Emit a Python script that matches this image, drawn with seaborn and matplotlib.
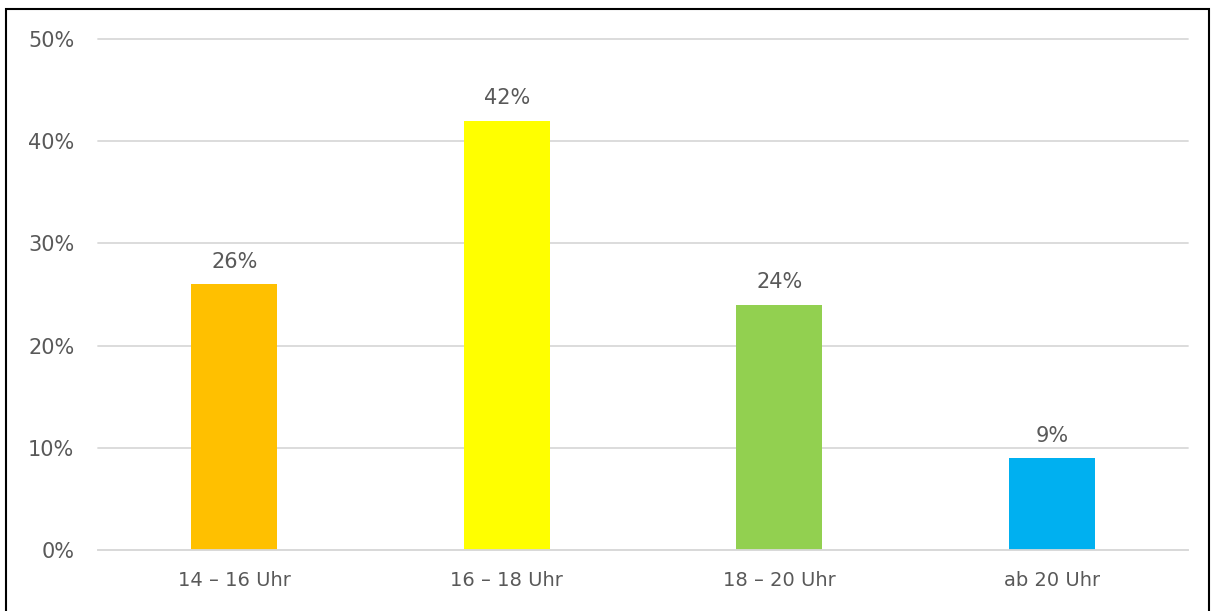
import matplotlib
matplotlib.use("Agg")
import matplotlib.pyplot as plt
import seaborn as sns
import pandas as pd
from matplotlib.patches import Rectangle

categories = ["14 – 16 Uhr", "16 – 18 Uhr", "18 – 20 Uhr", "ab 20 Uhr"]
values = [26, 42, 24, 9]
colors = ["#FFC000", "#FFFF00", "#92D050", "#00B0F0"]
yticks = [0, 10, 20, 30, 40, 50]

sns.set_theme(style="white")
plt.rcParams["font.family"] = ["DejaVu Sans"]
text_color = "#595959"

df = pd.DataFrame({"cat": categories, "val": values})

fig = plt.figure(figsize=(12.13, 6.11), dpi=100)
ax = fig.add_axes([98/1213, 61/611, 1090/1213, 511/611])

sns.barplot(data=df, x="cat", y="val", hue="cat", palette=colors, legend=False,
            width=0.316, ax=ax, saturation=1, linewidth=0, edgecolor="none")

ax.set_xlim(-0.5, 3.5)
ax.set_ylim(0, 50)
ax.set_yticks(yticks)
ax.set_yticklabels([f"{t}%" for t in yticks])
ax.yaxis.grid(True, color="#D9D9D9", linewidth=1.3)
for gl in ax.get_ygridlines():
    gl.set_clip_on(False)
ax.set_axisbelow(True)
for s in ["top", "right", "left"]:
    ax.spines[s].set_visible(False)
ax.spines["bottom"].set_color("#D9D9D9")
ax.spines["bottom"].set_linewidth(1.3)
ax.tick_params(axis="both", length=0, colors=text_color)
ax.tick_params(axis="y", pad=17, labelsize=15)
ax.tick_params(axis="x", pad=15, labelsize=14)
ax.set_xlabel("")
ax.set_ylabel("")

for i, v in enumerate(values):
    ax.annotate(f"{v}%", (i, v), xytext=(0, 9), textcoords="offset points",
                ha="center", va="bottom", fontsize=15, color=text_color)

fig.patches.append(Rectangle((6/1213, -0.01), (1209-6)/1213, (611-9)/611 + 0.01,
                             transform=fig.transFigure, fill=False,
                             edgecolor="black", linewidth=1.5))

fig.savefig("out.png", dpi=100)
